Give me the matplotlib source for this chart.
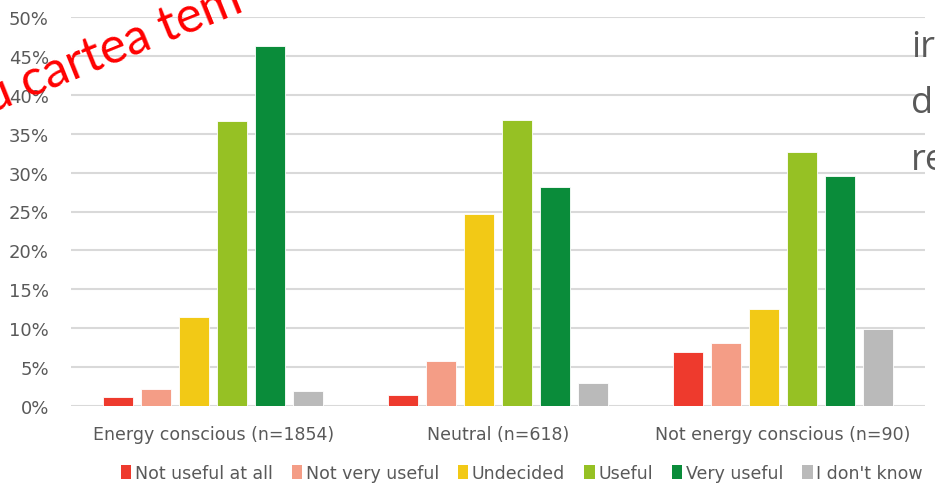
import matplotlib
matplotlib.use("Agg")
import matplotlib.pyplot as plt
import numpy as np
from matplotlib.patches import Patch

categories = ["Energy conscious (n=1854)", "Neutral (n=618)", "Not energy conscious (n=90)"]
series = ["Not useful at all", "Not very useful", "Undecided", "Useful", "Very useful", "I don't know"]
not_useful_at_all = [1.2, 1.4, 7.0]
not_very_useful = [2.2, 5.8, 8.1]
undecided = [11.4, 24.7, 12.5]
useful = [36.6, 36.8, 32.7]
very_useful = [46.3, 28.1, 29.5]
dont_know = [1.9, 3.0, 9.9]
yticks = [0, 5, 10, 15, 20, 25, 30, 35, 40, 45, 50]
ytick_labels = ["0%", "5%", "10%", "15%", "20%", "25%", "30%", "35%", "40%", "45%", "50%"]

values = [not_useful_at_all, not_very_useful, undecided, useful, very_useful, dont_know]
colors = ["#EE3A2D", "#F49D86", "#F2C916", "#96C124", "#0A8C3A", "#BABABA"]

plt.rcParams['font.family'] = ['DejaVu Sans']
txt = "#595959"

fig = plt.figure(figsize=(9.35, 4.85), dpi=100)
W, H = 935, 485
ax = fig.add_axes([71 / W, (H - 407) / H, (925 - 71) / W, (407 - 18) / H])

x = np.arange(len(categories))
step = 0.1335
width = 0.106
for i, (vals, col) in enumerate(zip(values, colors)):
    ax.bar(x + (i - 2.5) * step, vals, width=width, color=col, edgecolor="white",
           linewidth=0.6, zorder=3, label=series[i])

ax.set_xlim(-0.5, 2.5)
ax.set_ylim(0, 50)
ax.set_yticks(yticks)
ax.set_yticklabels(ytick_labels)
ax.set_xticks(x)
ax.set_xticklabels(categories)
ax.yaxis.grid(True, color="#D9D9D9", linewidth=1.5, zorder=0)
ax.set_axisbelow(True)
for s in ax.spines.values():
    s.set_visible(False)
ax.tick_params(axis="both", length=0, colors=txt)
ax.tick_params(axis="x", pad=14, labelsize=12.5)
ax.tick_params(axis="y", pad=16, labelsize=13)

handles = [Patch(facecolor=c, edgecolor="none") for c in colors]
fig.legend(handles, series, loc="center left", bbox_to_anchor=(114 / W, (H - 474) / H),
           ncol=6, frameon=False, fontsize=12.5, handlelength=0.6, handleheight=0.8,
           handletextpad=0.2, columnspacing=1.1, labelcolor=txt, borderaxespad=0)

# overlaid texts from the screenshot
fig.text(-10 / W, (H - 114) / H, "u cartea tem", color="#FF0000", fontsize=36,
         rotation=22, family="Lato", ha="left", va="baseline", rotation_mode="anchor")
for yy, t in [(57, "ir"), (113, "d"), (170, "re")]:
    fig.text(911 / W, (H - yy) / H, t, color="#595959", fontsize=26,
             family="Open Sans", ha="left", va="baseline")

fig.savefig("out.png", dpi=100)
